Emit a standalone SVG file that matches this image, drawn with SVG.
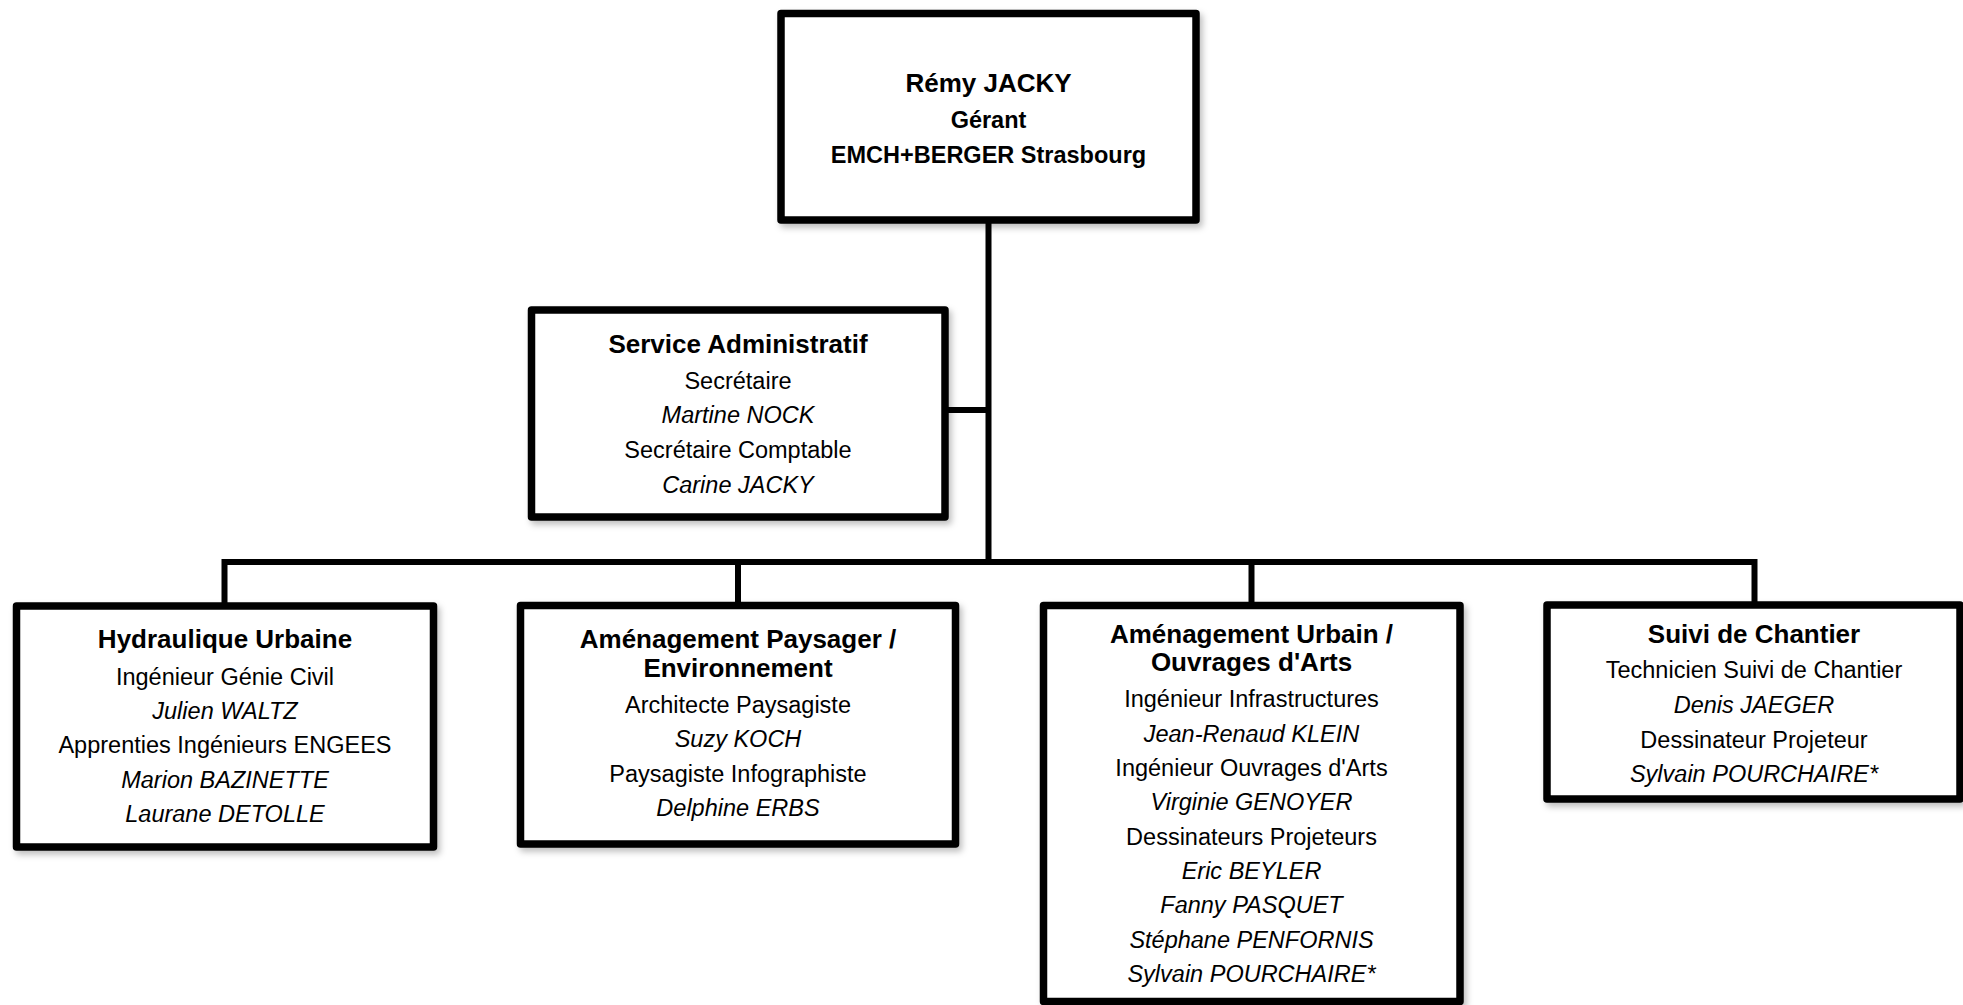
<svg xmlns="http://www.w3.org/2000/svg" width="1963" height="1005" viewBox="0 0 1963 1005">
<defs>
<filter id="sh" x="-5%" y="-5%" width="115%" height="115%">
<feDropShadow dx="3" dy="4" stdDeviation="3" flood-color="#000" flood-opacity="0.25"/>
</filter>
<style>
.box{fill:#fff;stroke:#000;stroke-width:7.5;stroke-linejoin:round;filter:url(#sh)}
.con{fill:none;stroke:#000;stroke-width:6;stroke-linejoin:miter}
text{font-family:"Liberation Sans",Arial,sans-serif;text-anchor:middle;fill:#000}
.t{font-weight:bold;font-size:26px}
.h{font-weight:bold;font-size:23.5px}
.r{font-size:23.5px}
.i{font-size:23.5px;font-style:italic}
</style>
</defs>
<rect width="1963" height="1005" fill="#fff"/>
<g id="connectors">
<path class="con" d="M988.5,220 V562"/>
<path class="con" d="M945,410 H988.5"/>
<path class="con" d="M224.5,605 V562 H1754.5 V605"/>
<path class="con" d="M738,562 V605"/>
<path class="con" d="M1251.5,562 V605"/>
</g>
<g id="gerant">
<rect class="box" x="781" y="13.5" width="415" height="206.5"/>
<text class="t" x="988.5" y="92">Rémy JACKY</text>
<text class="h" x="988.5" y="128">Gérant</text>
<text class="h" x="988.5" y="163">EMCH+BERGER Strasbourg</text>
</g>
<g id="admin">
<rect class="box" x="531.5" y="310" width="413.5" height="207"/>
<text class="t" x="738" y="353">Service Administratif</text>
<text class="r" x="738" y="389">Secrétaire</text>
<text class="i" x="738" y="423">Martine NOCK</text>
<text class="r" x="738" y="458">Secrétaire Comptable</text>
<text class="i" x="738" y="493">Carine JACKY</text>
</g>
<g id="hydraulique">
<rect class="box" x="16.5" y="606" width="417" height="241"/>
<text class="t" x="225" y="648">Hydraulique Urbaine</text>
<text class="r" x="225" y="685">Ingénieur Génie Civil</text>
<text class="i" x="225" y="719">Julien WALTZ</text>
<text class="r" x="225" y="753">Apprenties Ingénieurs ENGEES</text>
<text class="i" x="225" y="788">Marion BAZINETTE</text>
<text class="i" x="225" y="822">Laurane DETOLLE</text>
</g>
<g id="paysager">
<rect class="box" x="520.5" y="605.5" width="435" height="238.5"/>
<text class="t" x="738" y="648">Aménagement Paysager /</text>
<text class="t" x="738" y="677">Environnement</text>
<text class="r" x="738" y="713">Architecte Paysagiste</text>
<text class="i" x="738" y="747">Suzy KOCH</text>
<text class="r" x="738" y="782">Paysagiste Infographiste</text>
<text class="i" x="738" y="816">Delphine ERBS</text>
</g>
<g id="urbain">
<rect class="box" x="1043.5" y="605.5" width="416.5" height="396"/>
<text class="t" x="1251.5" y="643">Aménagement Urbain /</text>
<text class="t" x="1251.5" y="671">Ouvrages d'Arts</text>
<text class="r" x="1251.5" y="707">Ingénieur Infrastructures</text>
<text class="i" x="1251.5" y="742">Jean-Renaud KLEIN</text>
<text class="r" x="1251.5" y="776">Ingénieur Ouvrages d'Arts</text>
<text class="i" x="1251.5" y="810">Virginie GENOYER</text>
<text class="r" x="1251.5" y="845">Dessinateurs Projeteurs</text>
<text class="i" x="1251.5" y="879">Eric BEYLER</text>
<text class="i" x="1251.5" y="913">Fanny PASQUET</text>
<text class="i" x="1251.5" y="948">Stéphane PENFORNIS</text>
<text class="i" x="1251.5" y="982">Sylvain POURCHAIRE*</text>
</g>
<g id="suivi">
<rect class="box" x="1547" y="605" width="413" height="194"/>
<text class="t" x="1754" y="643">Suivi de Chantier</text>
<text class="r" x="1754" y="678">Technicien Suivi de Chantier</text>
<text class="i" x="1754" y="713">Denis JAEGER</text>
<text class="r" x="1754" y="748">Dessinateur Projeteur</text>
<text class="i" x="1754" y="782">Sylvain POURCHAIRE*</text>
</g>
</svg>
